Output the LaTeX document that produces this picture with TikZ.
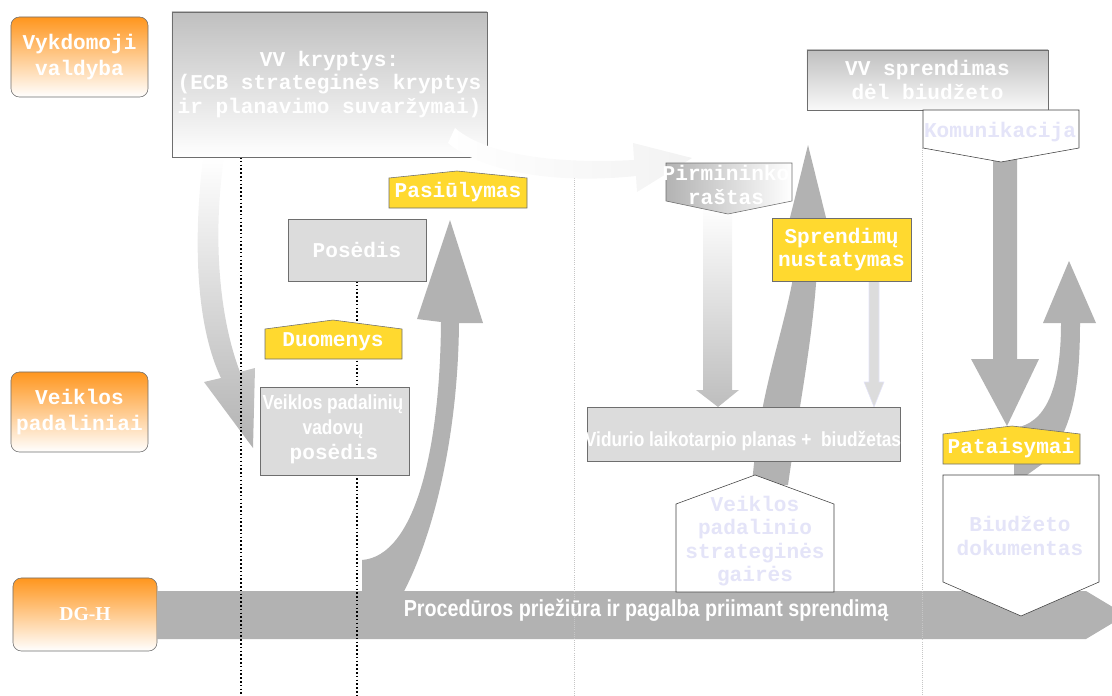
\documentclass[tikz,border=0pt]{standalone}
\usepackage{fontspec}
\setmainfont{Liberation Serif}
\newfontfamily\boxfont{Liberation Mono}
\newfontfamily\narrowfont[FakeStretch=0.85]{Liberation Sans}

\definecolor{laneorange}{HTML}{FF961E}
\definecolor{notegold}{HTML}{FFD92F}
\definecolor{arrowgray}{HTML}{B2B2B2}
\definecolor{boxgray}{HTML}{DCDCDC}
\definecolor{edgegray}{HTML}{6E6E6E}
\definecolor{palelilac}{HTML}{E4E4F8}

\tikzset{
  lane/.style={draw=edgegray, rounded corners=6pt, top color=laneorange, bottom color=white,
    text=white, font=\boxfont\bfseries\fontsize{15}{19}\selectfont, align=center,
    minimum width=3.425cm, minimum height=2cm},
  graybox/.style={draw=edgegray, fill=boxgray, text=white, inner sep=1pt,
    font=\boxfont\bfseries\fontsize{15}{16.5}\selectfont, align=center},
  note/.style={draw=edgegray, fill=notegold},
  notetext/.style={text=white, font=\boxfont\bfseries\fontsize{15}{16.5}\selectfont, align=center},
  paletext/.style={text=palelilac, font=\boxfont\bfseries\fontsize{15}{16.5}\selectfont, align=center},
  narrowtext/.style={text=white, font=\narrowfont\bfseries\fontsize{14.5}{19}\selectfont, align=center},
  blackdots/.style={dash pattern=on 1.1pt off 1.6pt, line width=1.1pt},
  greydots/.style={densely dotted, line width=0.5pt, draw=gray!45},
}

\begin{document}
\begin{tikzpicture}[x=0.025cm, y=-0.025cm]
\useasboundingbox (0,0) rectangle (1112,696);

% Lanes
\node[lane] (vykdomoji) at (79.5,57) {Vykdomoji\\valdyba};
\node[lane] (veiklos) at (79.5,412) {Veiklos\\padaliniai};
\node[lane, minimum width=3.6cm, minimum height=1.825cm,
  font=\bfseries\fontsize{14}{16}\selectfont] (dgh) at (85,614.5) {DG-H};

% Main bar
\fill[arrowgray] (157,591) -- (1086,591) -- (1126,615) -- (1086,639) -- (157,639) -- cycle;

% Block arrows (back)
\shade[top color=white, bottom color=arrowgray] (203,158) .. controls (192,250) and (198,330) .. (221,378)
  -- (204,382) -- (253,448) -- (255,368) -- (240,372) .. controls (220,320) and (212,240) .. (224,158) -- cycle;
\fill[arrowgray] (362,595) -- (362,560) .. controls (415,556) and (440,450) .. (441,322)
  -- (417,319) -- (450,220) -- (483,323) -- (459,323) .. controls (458,440) and (432,540) .. (402,595) -- cycle;
\fill[arrowgray] (752,485) .. controls (760,380) and (790,320) .. (797,250)
  -- (782,250) -- (808,145) -- (834,250) -- (818,250) .. controls (815,330) and (800,400) .. (788,485) -- cycle;
\shade[top color=white, bottom color=arrowgray!85] (703,205) -- (703,390) -- (696,390) -- (718,407)
  -- (739,390) -- (732,390) -- (732,205) -- cycle;
\filldraw[fill=boxgray, draw=palelilac] (869,281) -- (869,382) -- (864,382) -- (874,407) -- (884,382)
  -- (879,382) -- (879,281) -- cycle;
\fill[arrowgray] (993,158) -- (993,359) -- (971,359) -- (1007,426) -- (1039,359) -- (1017,359) -- (1017,158) -- cycle;
\fill[arrowgray] (1014,480) -- (1014,428) .. controls (1045,424) and (1061,390) .. (1061,323)
  -- (1043,323) -- (1069,261) -- (1096,323) -- (1080,323) .. controls (1080,390) and (1072,430) .. (1045,462)
  -- (1020,480) -- cycle;

% Guide lines
\coordinate (foot1) at (241,696);
\coordinate (foot2) at (357,696);
\coordinate (foot3) at (574,696);
\coordinate (foot4) at (922,696);
\draw[blackdots] (241,157) -- (foot1);
\draw[blackdots] (357,281) -- (foot2);
\draw[greydots] (574,178) -- (foot3);
\draw[greydots] (922,148) -- (foot4);

% Boxes
\node[graybox, draw=edgegray, top color=gray!50, bottom color=white, minimum width=7.875cm, minimum height=3.625cm]
  (vvkryptys) at (329.5,84.5) {VV kryptys:\\(ECB strateginės kryptys\\ir planavimo suvaržymai)};
\shade[left color=white, middle color=gray!45, right color=white!90!gray]
  (455,128) .. controls (480,150) and (540,165) .. (634,160) -- (633,143) -- (692,158) -- (637,192)
  -- (636,176) .. controls (550,185) and (480,170) .. (448,143) -- cycle;
\node[graybox, top color=gray!50, bottom color=white!95!gray, minimum width=6.025cm, minimum height=1.5cm]
  (vvsprendimas) at (927.5,80) {VV sprendimas\\dėl biudžeto};
\node[graybox, minimum width=3.45cm, minimum height=1.55cm] (posedis) at (357,250) {Posėdis};
\node[graybox, minimum width=3.725cm, minimum height=2.2cm] (vadovai) at (334.5,431) {};
\node[narrowtext] (vadovai1) at (333,404) {Veiklos padalinių};
\node[narrowtext] (vadovai2) at (333,429) {vadovų};
\node[notetext] (vadovai3) at (334,454) {posėdis};
\node[graybox, minimum width=7.825cm, minimum height=1.35cm] (vidurio) at (743.5,434) {};
\node[narrowtext] (vidurio1) at (743,441) {Vidurio laikotarpio planas +\ \ biudžetas};
\node[graybox, fill=notegold, minimum width=3.475cm, minimum height=1.575cm]
  (sprendimu) at (841.5,249.5) {Sprendimų\\nustatymas};

% Pointed boxes
\draw[note] (389,178) -- (457,171) -- (527,178) -- (527,208) -- (389,208) -- cycle;
\node[notetext] (pasiulymas) at (458,192) {Pasiūlymas};
\draw[note] (265,329) -- (333,320) -- (402,329) -- (402,359) -- (265,359) -- cycle;
\node[notetext] (duomenys) at (333,342) {Duomenys};
\draw[note] (943,434) -- (1012,426) -- (1080,434) -- (1080,464) -- (943,464) -- cycle;
\node[notetext] (pataisymai) at (1011,448) {Pataisymai};
\draw[draw=edgegray, left color=gray!60, right color=white] (666,163) -- (792,163) -- (792,201) -- (728,214)
  -- (666,201) -- cycle;
\node[notetext] (pirmininko) at (726,185) {Pirmininko\\raštas};
\draw[draw=black!75, fill=white] (676,504) -- (755,475) -- (834,504) -- (834,592) -- (676,592) -- cycle;
\node[paletext] (gaires) at (755,541) {Veiklos\\padalinio\\strateginės\\gairės};
\draw[draw=black!75, fill=white] (923,110) -- (1079,110) -- (1079,148) -- (1001,162) -- (923,148) -- cycle;
\node[paletext] (komunikacija) at (1000,132) {Komunikacija};
\draw[draw=black!75, fill=white] (943,475) -- (1099,475) -- (1099,582) -- (1021,616) -- (943,582) -- cycle;
\node[paletext] (biudzetas) at (1020,536) {Biudžeto\\dokumentas};

% Bar text
\node[narrowtext, font=\narrowfont\bfseries\fontsize{16.5}{19}\selectfont] (procedura) at (646,610)
  {Procedūros priežiūra ir pagalba priimant sprendimą};
\end{tikzpicture}
\end{document}
